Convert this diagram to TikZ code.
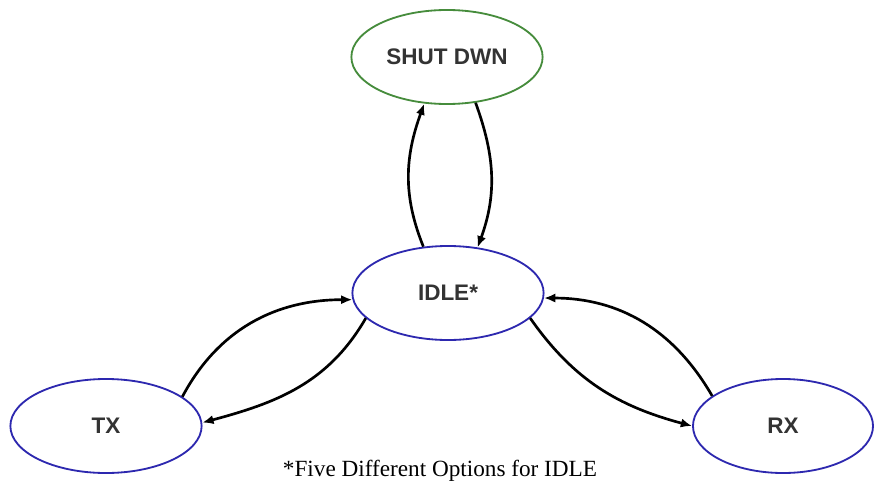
\documentclass[tikz,border=0pt]{standalone}
\usepackage{fontspec}
\setmainfont{Liberation Serif}
\setsansfont{Liberation Sans}
\usepackage{tikz}
\usetikzlibrary{shapes.geometric,arrows.meta}
\definecolor{stgreen}{RGB}{70,140,60}
\definecolor{stblue}{RGB}{45,40,175}
\tikzset{
  state/.style={draw,ellipse,line width=1.3pt,fill=white,minimum width=4.78cm,minimum height=2.35cm,
    font=\sffamily\bfseries\fontsize{16}{18}\selectfont,text=black!80},
  trans/.style={-{Latex[length=8pt,width=6.5pt]},line width=1.9pt,black}
}

\begin{document}
\begin{tikzpicture}[x=0.025cm,y=-0.025cm]
  \useasboundingbox (0,0) rectangle (874,486);

  %states
  \node[state,draw=stgreen] (shut) at (447,57) {SHUT DWN};
  \node[state,draw=stblue]  (idle) at (448,293) {IDLE*};
  \node[state,draw=stblue]  (tx)   at (106,426) {TX};
  \node[state,draw=stblue,minimum width=4.5cm] (rx) at (783,426) {RX};

  %transitions
  \draw[trans] (idle.118) to[out=112,in=-110] (shut.244);
  \draw[trans] (shut.-58) to[out=-70,in=70] (idle.57);
  \draw[trans] (tx.21) to[out=62,in=180] (idle.184);
  \draw[trans] (idle.197) to[out=-120,in=15] (tx.2);
  \draw[trans] (idle.-17) to[out=-55,in=165] (rx.180);
  \draw[trans] (rx.157) to[out=120,in=0] (idle.-3);

  %note
  \node (note) at (440,471) {\fontsize{16.5}{18}\selectfont *Five Different Options for IDLE};
\end{tikzpicture}
\end{document}
